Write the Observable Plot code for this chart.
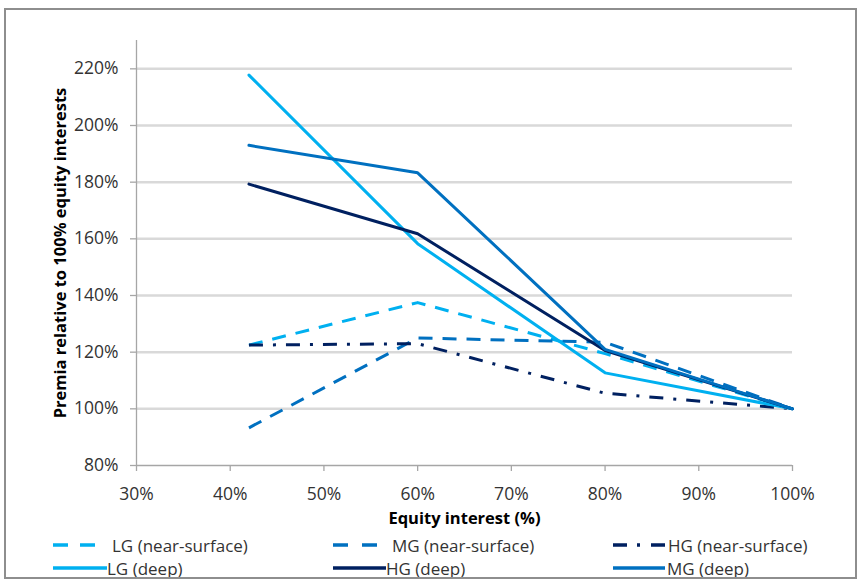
<!DOCTYPE html>
<html>
<head>
<meta charset="utf-8">
<script src="https://cdn.jsdelivr.net/npm/d3@7"></script>
<script src="https://cdn.jsdelivr.net/npm/@observablehq/plot@0.6"></script>
<style>
  body { margin: 0; background: #fff; }
  #wrap { position: relative; width: 858px; height: 581px; font-family: "Open Sans", sans-serif; background: #fff; overflow: hidden; }
  #border { position: absolute; left: 4px; top: 8px; width: 853px; height: 571px; border: 2px solid #8e8e8e; box-sizing: border-box; pointer-events: none; }
  #chart { position: absolute; left: 0; top: 0; }
  .leg { position: absolute; font-size: 17px; color: #333; white-space: nowrap; line-height: 1; }
  .leg svg { position: absolute; overflow: visible; }
  .leg span { position: absolute; line-height: 1; transform: translateY(-50%); }
</style>
</head>
<body>
<div id="wrap">
  <div id="chart"></div>
  <div id="legend"></div>
  <div id="border"></div>
</div>
<script>
// ---- data ----
const equityInterest = [42, 60, 80, 100];            // x values (%)
const lgNearSurface = [122.5, 137.5, 119.5, 100];
const mgNearSurface = [93.3, 125.0, 123.5, 100];
const hgNearSurface = [122.5, 123.0, 105.5, 100];
const lgDeep = [217.8, 158.3, 112.7, 100];
const hgDeep = [179.3, 161.8, 120.6, 100];
const mgDeep = [193.0, 183.3, 121.0, 100];

const seriesNames = ["LG (near-surface)", "MG (near-surface)", "HG (near-surface)", "LG (deep)", "HG (deep)", "MG (deep)"];
const seriesValues = [lgNearSurface, mgNearSurface, hgNearSurface, lgDeep, hgDeep, mgDeep];

const xTicks = [30, 40, 50, 60, 70, 80, 90, 100];
const yTicks = [80, 100, 120, 140, 160, 180, 200, 220];

const xTitle = "Equity interest (%)";
const yTitle = "Premia relative to 100% equity interests";

// ---- styles ----
const LG = "#00b0f0", MG = "#0070c0", HG = "#002060";
const styles = {
  "LG (near-surface)": {stroke: LG, dash: "14,10"},
  "MG (near-surface)": {stroke: MG, dash: "14,10"},
  "HG (near-surface)": {stroke: HG, dash: "14,10,3,10"},
  "LG (deep)": {stroke: LG, dash: null},
  "HG (deep)": {stroke: HG, dash: null},
  "MG (deep)": {stroke: MG, dash: null}
};

const rows = [];
seriesNames.forEach((name, i) => {
  equityInterest.forEach((x, j) => rows.push({series: name, x, y: seriesValues[i][j]}));
});

const axisGray = "#a6a6a6";

const lineMarks = seriesNames.map(name => Plot.line(rows.filter(d => d.series === name), {
  x: "x", y: "y",
  stroke: styles[name].stroke,
  strokeWidth: 3,
  strokeDasharray: styles[name].dash ?? undefined,
  strokeLinecap: styles[name].dash ? "butt" : "round",
  strokeLinejoin: "round"
}));

const chart = Plot.plot({
  width: 858,
  height: 530,
  marginLeft: 136,
  marginRight: 66,
  marginTop: 40,
  marginBottom: 65,
  x: {domain: [30, 100]},
  y: {domain: [80, 230]},
  style: {fontFamily: "'Open Sans', sans-serif", fontSize: "17.5px", color: "#333", background: "transparent", overflow: "visible"},
  marks: [
    Plot.gridY(yTicks.filter(t => t > 80), {stroke: "#d9d9d9", strokeWidth: 2.5, strokeOpacity: 1}),
    Plot.ruleY([80], {stroke: axisGray, strokeWidth: 1.3}),
    Plot.ruleX([30], {stroke: axisGray, strokeWidth: 1.3}),
    Plot.axisY({ticks: yTicks, tickFormat: d => d + "%", tickSize: 6, tickPadding: 12, label: null, stroke: axisGray, strokeWidth: 1.3, fill: "#333"}),
    Plot.axisX({ticks: xTicks, tickFormat: d => d + "%", tickSize: 6, tickPadding: 16, label: null, stroke: axisGray, strokeWidth: 1.3, fill: "#333"}),
    ...lineMarks,
    Plot.text([xTitle], {text: d => d, frameAnchor: "bottom", textAnchor: "middle", dy: 58, fontWeight: "bold", fontSize: 16.5, fill: "#000"}),
    Plot.text([yTitle], {text: d => d, frameAnchor: "left", textAnchor: "middle", dx: -76, rotate: -90, fontWeight: "bold", fontSize: 16.5, fill: "#000"})
  ]
});
document.getElementById("chart").appendChild(chart);

// ---- legend (HTML, below the plot) ----
const legendLayout = [
  {x: 53, w: 42, tx: 112, y: 545},
  {x: 333, w: 44, tx: 392, y: 545},
  {x: 613, w: 52, tx: 668, y: 545},
  {x: 53, w: 54, tx: 107, y: 567.5},
  {x: 333, w: 53, tx: 386, y: 567.5},
  {x: 613, w: 52, tx: 667, y: 567.5}
];
const legendDash = {
  "LG (near-surface)": "15,12",
  "MG (near-surface)": "15,14",
  "HG (near-surface)": "14,10,3,11"
};
const legend = document.getElementById("legend");
seriesNames.forEach((name, i) => {
  const L = legendLayout[i];
  const item = document.createElement("div");
  item.className = "leg";
  item.style.left = "0px";
  item.style.top = L.y + "px";
  const dash = legendDash[name];
  item.innerHTML =
    `<svg width="${L.w}" height="6" style="left:${L.x}px;top:-3px"><line x1="0" x2="${L.w}" y1="3" y2="3" stroke="${styles[name].stroke}" stroke-width="3.5" ${dash ? `stroke-dasharray="${dash}"` : ""}/></svg>` +
    `<span style="left:${L.tx}px">${name}</span>`;
  legend.appendChild(item);
});
</script>
</body>
</html>
